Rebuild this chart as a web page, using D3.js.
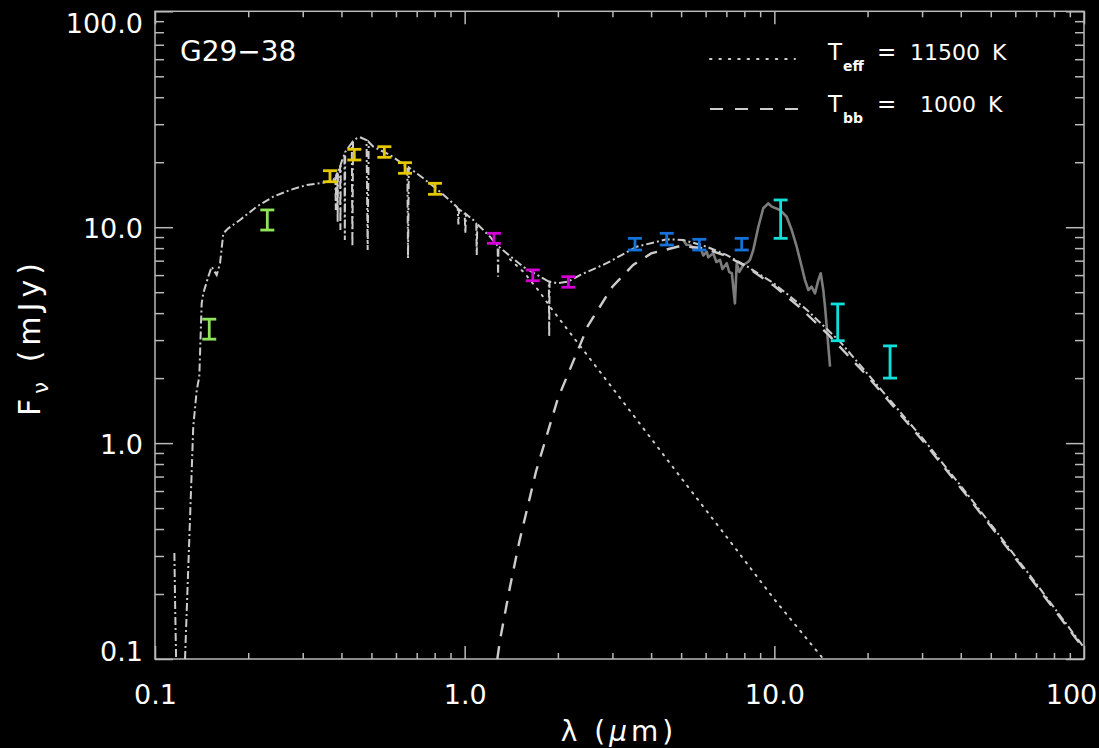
<!DOCTYPE html>
<html>
<head>
<meta charset="utf-8">
<script src="https://cdn.jsdelivr.net/npm/d3@7"></script>
<style>
  body { margin: 0; background: #000; }
  svg { display: block; }
  text { font-family: "DejaVu Sans", sans-serif; fill: #fff; }
</style>
</head>
<body>
<div id="sed"></div>
<script>
var svgWidth = 1099, svgHeight = 748;
var plotLeft = 155, plotRight = 1084, plotTop = 11.3, plotBottom = 659;

// photometry: wavelength (micron), lower / upper end of error bar (mJy)
var galexLam = [0.1497, 0.2305];
var galexLo  = [3.03, 9.70];
var galexHi  = [3.75, 12.02];

var optLam = [0.3673, 0.4402, 0.5503, 0.6418, 0.8023];
var optLo  = [16.24, 20.48, 21.07, 17.77, 14.20];
var optHi  = [18.27, 22.95, 23.60, 19.90, 15.97];

var nirLam = [1.243, 1.659, 2.162];
var nirLo  = [8.42, 5.65, 5.27];
var nirHi  = [9.37, 6.34, 5.90];

var iracLam = [3.548, 4.493, 5.724, 7.846];
var iracLo  = [7.84, 8.27, 7.84, 7.84];
var iracHi  = [8.88, 9.37, 8.79, 8.88];

var mirLam = [10.48, 16.02, 23.64];
var mirLo  = [8.88, 2.98, 2.00];
var mirHi  = [13.37, 4.41, 2.82];

// short UV wing piece of the model
var wingLam  = [0.1155, 0.1162, 0.1170];
var wingFlux = [0.31, 0.17, 0.10];

// photosphere + blackbody model (dash-dot)
var modelLam = [0.125, 0.1297, 0.1329, 0.1364, 0.1390, 0.1415, 0.1432, 0.1486, 0.1524, 0.1582,
  0.1622, 0.1662, 0.1725, 0.1881, 0.2130, 0.2410, 0.2729, 0.3090, 0.3495, 0.3765,
  0.3825, 0.3835, 0.3845, 0.3880, 0.3889, 0.3898, 0.3960, 0.3970, 0.3980,
  0.4090, 0.4102, 0.4114, 0.4159, 0.4320, 0.4340, 0.4360, 0.4480, 0.4592,
  0.4820, 0.4861, 0.4900, 0.5069, 0.5740, 0.6499, 0.6530, 0.6563, 0.6600,
  0.7354, 0.8325, 0.9425, 0.9500, 0.9546, 0.9590, 1.0000, 1.0050, 1.0100,
  1.066, 1.0900, 1.0940, 1.0980, 1.207, 1.2780, 1.2820, 1.2860, 1.367, 1.546,
  1.751, 1.8700, 1.8750, 1.8800, 2.0, 2.16, 2.357, 2.875, 3.594, 4.49, 5.08,
  6.05, 7.02, 8.14, 9.92, 12.72, 16.3, 20.37, 30, 40, 50, 70, 100];
var modelFlux = [0.10, 0.44, 1.19, 1.76, 2.03, 4.44, 4.94, 5.90, 6.56, 6.00,
  6.81, 9.37, 9.88, 10.8, 12.45, 13.85, 14.87, 15.69, 16.07, 16.54,
  17.2, 12.0, 17.4, 17.9, 10.6, 18.1, 19.3, 9.7, 19.6,
  21.8, 8.73, 22.3, 22.8, 24.6, 8.13, 24.9, 25.8, 26.1,
  25.3, 7.84, 24.8, 23.6, 21.6, 19.1, 19.0, 7.17, 18.9,
  16.85, 14.6, 12.45, 12.2, 10.3, 12.1, 11.6, 9.37, 11.5,
  10.8, 10.4, 7.43, 10.35, 9.04, 8.2, 5.90, 8.15, 7.57, 6.56,
  5.90, 5.60, 3.11, 5.60, 5.50, 5.60, 6.00, 6.81, 8.12, 8.79, 8.73,
  8.12, 7.43, 6.60, 5.52, 4.15, 2.95, 2.03, 1.06, 0.634, 0.421, 0.224, 0.113];

// stellar photosphere tail, Teff = 11500 K (dotted)
var photLam  = [1.40, 1.55, 1.75, 1.886, 2.5, 3.5, 5.0, 7.0, 10.0, 14.4];
var photFlux = [7.1, 6.2, 5.0, 4.28, 2.53, 1.35, 0.69, 0.369, 0.189, 0.10];

// blackbody, Tbb = 1000 K (dashed)
var bbLam  = [1.275, 1.3, 1.4, 1.5, 1.7, 2.0, 2.5, 3.0, 3.5, 4.0, 5.0, 6.0, 7.0, 8.0,
  10, 12, 15, 20, 30, 40, 50, 70, 100];
var bbFlux = [0.10, 0.122, 0.215, 0.347, 0.739, 1.61, 3.49, 5.30, 6.68, 7.56, 8.20, 7.96, 7.35, 6.66,
  5.34, 4.29, 3.16, 2.04, 1.034, 0.620, 0.412, 0.2195, 0.111];

// Spitzer IRS spectrum (solid grey)
var irsLam = [5.08, 5.20, 5.34, 5.50, 5.75, 5.90, 6.05, 6.12, 6.35, 6.50, 6.68, 6.80, 7.02, 7.15,
  7.29, 7.46, 7.56, 7.70, 7.94, 8.24, 8.34, 8.55, 8.88, 9.21, 9.56, 9.81, 10.43, 10.96,
  11.38, 11.81, 12.26, 12.56, 12.88, 13.2, 13.53, 13.87, 14.12, 14.39, 14.58, 14.76, 15.13];
var irsFlux = [8.72, 8.30, 8.27, 7.95, 8.12, 7.40, 7.70, 7.25, 7.57, 6.90, 7.05, 6.40, 6.81, 6.20,
  6.12, 4.44, 6.81, 6.20, 6.68, 6.92, 7.05, 7.84, 10.05, 12.24, 12.9, 12.45, 12.02, 11.18,
  9.70, 8.12, 6.56, 5.69, 5.12, 5.30, 4.94, 5.69, 6.12, 5.12, 4.28, 3.46, 2.26];

var xMajor = [0.1, 1, 10, 100], xLabels = ["0.1", "1.0", "10.0", "100"];
var yMajor = [0.1, 1, 10, 100], yLabels = ["0.1", "1.0", "10.0", "100.0"];

var axisColor = "#b9b9b9", modelColor = "#cccccc";

var svg = d3.select("#sed").append("svg")
  .attr("width", svgWidth)
  .attr("height", svgHeight)
  .style("background", "#000");

var x = d3.scaleLog().domain([0.1, 100]).range([plotLeft, plotRight]);
var y = d3.scaleLog().domain([0.1, 100]).range([plotBottom, plotTop]);

function isMajor(t){ return Math.abs(Math.log10(t) - Math.round(Math.log10(t))) < 1e-6; }
var xMinor = x.ticks().filter(t => !isMajor(t));
var yMinor = y.ticks().filter(t => !isMajor(t));

function addAxis(axis, tx, ty){
  var g = svg.append("g")
    .attr("transform", "translate(" + tx + "," + ty + ")")
    .call(axis)
    .attr("color", axisColor)
    .attr("font-size", 27)
    .attr("font-family", "DejaVu Sans");
  g.select(".domain").remove();
  g.selectAll("line").attr("stroke-width", 1.5);
  g.selectAll("text").attr("fill", "#fff");
  return g;
}

// bottom / top
var xAx = addAxis(d3.axisBottom(x).tickValues(xMajor).tickSize(-13).tickSizeOuter(0).tickPadding(26)
  .tickFormat(d => xLabels[xMajor.indexOf(d)]), 0, plotBottom);
// last label sits against the page edge, as in the original
xAx.selectAll("text").attr("dx", d => d === 100 ? -13 : 0);
addAxis(d3.axisBottom(x).tickValues(xMinor).tickSize(-6).tickSizeOuter(0).tickFormat(""), 0, plotBottom);
addAxis(d3.axisTop(x).tickValues(xMajor).tickSize(-13).tickSizeOuter(0).tickFormat(""), 0, plotTop);
addAxis(d3.axisTop(x).tickValues(xMinor).tickSize(-6).tickSizeOuter(0).tickFormat(""), 0, plotTop);

// left / right
var yAx = addAxis(d3.axisLeft(y).tickValues(yMajor).tickSize(-18).tickSizeOuter(0).tickPadding(12)
  .tickFormat(d => yLabels[yMajor.indexOf(d)]), plotLeft, 0);
yAx.selectAll("text")
  .attr("dy", d => d === 100 ? "0.8em" : (d === 0.1 ? "0.04em" : "0.37em"));
addAxis(d3.axisLeft(y).tickValues(yMinor).tickSize(-9).tickSizeOuter(0).tickFormat(""), plotLeft, 0);
addAxis(d3.axisRight(y).tickValues(yMajor).tickSize(-18).tickSizeOuter(0).tickFormat(""), plotRight, 0);
addAxis(d3.axisRight(y).tickValues(yMinor).tickSize(-9).tickSizeOuter(0).tickFormat(""), plotRight, 0);

svg.append("rect")
  .attr("x", plotLeft).attr("y", plotTop)
  .attr("width", plotRight - plotLeft).attr("height", plotBottom - plotTop)
  .attr("fill", "none").attr("stroke", axisColor).attr("stroke-width", 1.5);

svg.append("clipPath").attr("id", "plotclip")
  .append("rect")
  .attr("x", plotLeft).attr("y", plotTop)
  .attr("width", plotRight - plotLeft).attr("height", plotBottom - plotTop);

var plot = svg.append("g").attr("clip-path", "url(#plotclip)");

function pairs(lam, flux){ return lam.map((l, i) => [l, flux[i]]); }

var line = d3.line()
  .x(d => x(d[0]))
  .y(d => y(d[1]));

// IRS spectrum
plot.append("path")
  .attr("d", line(pairs(irsLam, irsFlux)))
  .attr("fill", "none").attr("stroke", "#7c7c7c").attr("stroke-width", 2.6)
  .attr("stroke-linejoin", "round");

// photosphere, dotted
plot.append("path")
  .attr("d", line(pairs(photLam, photFlux)))
  .attr("fill", "none").attr("stroke", modelColor).attr("stroke-width", 2)
  .attr("stroke-dasharray", "1.5,6.5").attr("stroke-linecap", "round");

// blackbody, dashed
plot.append("path")
  .attr("d", line(pairs(bbLam, bbFlux)))
  .attr("fill", "none").attr("stroke", modelColor).attr("stroke-width", 2.4)
  .attr("stroke-dasharray", "13,10");

// combined model, dash-dot
[pairs(wingLam, wingFlux), pairs(modelLam, modelFlux)].forEach(function(seg){
  plot.append("path")
    .attr("d", line(seg))
    .attr("fill", "none").attr("stroke", modelColor).attr("stroke-width", 2)
    .attr("stroke-dasharray", "8,3,2,3");
});

// error bars
function errorBars(lam, lo, hi, color){
  var g = svg.append("g").attr("stroke", color).attr("stroke-width", 2.8);
  var data = lam.map((l, i) => ({l: l, lo: lo[i], hi: hi[i]}));
  g.selectAll("line.v").data(data).enter().append("line").attr("class", "v")
    .attr("x1", d => x(d.l)).attr("x2", d => x(d.l))
    .attr("y1", d => y(d.lo)).attr("y2", d => y(d.hi));
  g.selectAll("line.lo").data(data).enter().append("line").attr("class", "lo")
    .attr("x1", d => x(d.l) - 7).attr("x2", d => x(d.l) + 7)
    .attr("y1", d => y(d.lo)).attr("y2", d => y(d.lo));
  g.selectAll("line.hi").data(data).enter().append("line").attr("class", "hi")
    .attr("x1", d => x(d.l) - 7).attr("x2", d => x(d.l) + 7)
    .attr("y1", d => y(d.hi)).attr("y2", d => y(d.hi));
}
errorBars(galexLam, galexLo, galexHi, "#8fe35c");
errorBars(optLam, optLo, optHi, "#e6c800");
errorBars(nirLam, nirLo, nirHi, "#d400d4");
errorBars(iracLam, iracLo, iracHi, "#1472d8");
errorBars(mirLam, mirLo, mirHi, "#10e0dc");

// labels
svg.append("text").attr("x", 180).attr("y", 61).attr("font-size", 28).text("G29\u221238");

svg.append("text")
  .attr("x", 619).attr("y", 741).attr("text-anchor", "middle").attr("font-size", 28)
  .attr("letter-spacing", 4)
  .html('\u03bb (<tspan font-style="italic">\u03bc</tspan>m)');

svg.append("text")
  .attr("transform", "translate(40,337) rotate(-90)")
  .attr("text-anchor", "middle").attr("font-size", 30).attr("letter-spacing", 5)
  .html('F<tspan dy="8" font-size="21">\u03bd</tspan><tspan dy="-8"> (mJy)</tspan>');

// legend
svg.append("line").attr("x1", 710).attr("x2", 795).attr("y1", 59).attr("y2", 59)
  .attr("stroke", modelColor).attr("stroke-width", 2)
  .attr("stroke-dasharray", "1.5,7.9").attr("stroke-linecap", "round");
svg.append("line").attr("x1", 710).attr("x2", 800).attr("y1", 109).attr("y2", 109)
  .attr("stroke", modelColor).attr("stroke-width", 1.8)
  .attr("stroke-dasharray", "13,12");

function legendRow(yb, sub, num, numX, kX){
  svg.append("text").attr("x", 828).attr("y", yb).attr("font-size", 23).text("T");
  svg.append("text").attr("x", 843).attr("y", yb + 11).attr("font-size", 14)
    .attr("font-weight", "bold").text(sub);
  svg.append("text").attr("x", 877).attr("y", yb).attr("font-size", 23).text("=");
  svg.append("text").attr("x", numX).attr("y", yb).attr("font-size", 22).text(num);
  svg.append("text").attr("x", kX).attr("y", yb).attr("font-size", 22).text("K");
}
legendRow(60, "eff", "11500", 910, 992);
legendRow(112, "bb", "1000", 920, 988);
</script>
</body>
</html>
